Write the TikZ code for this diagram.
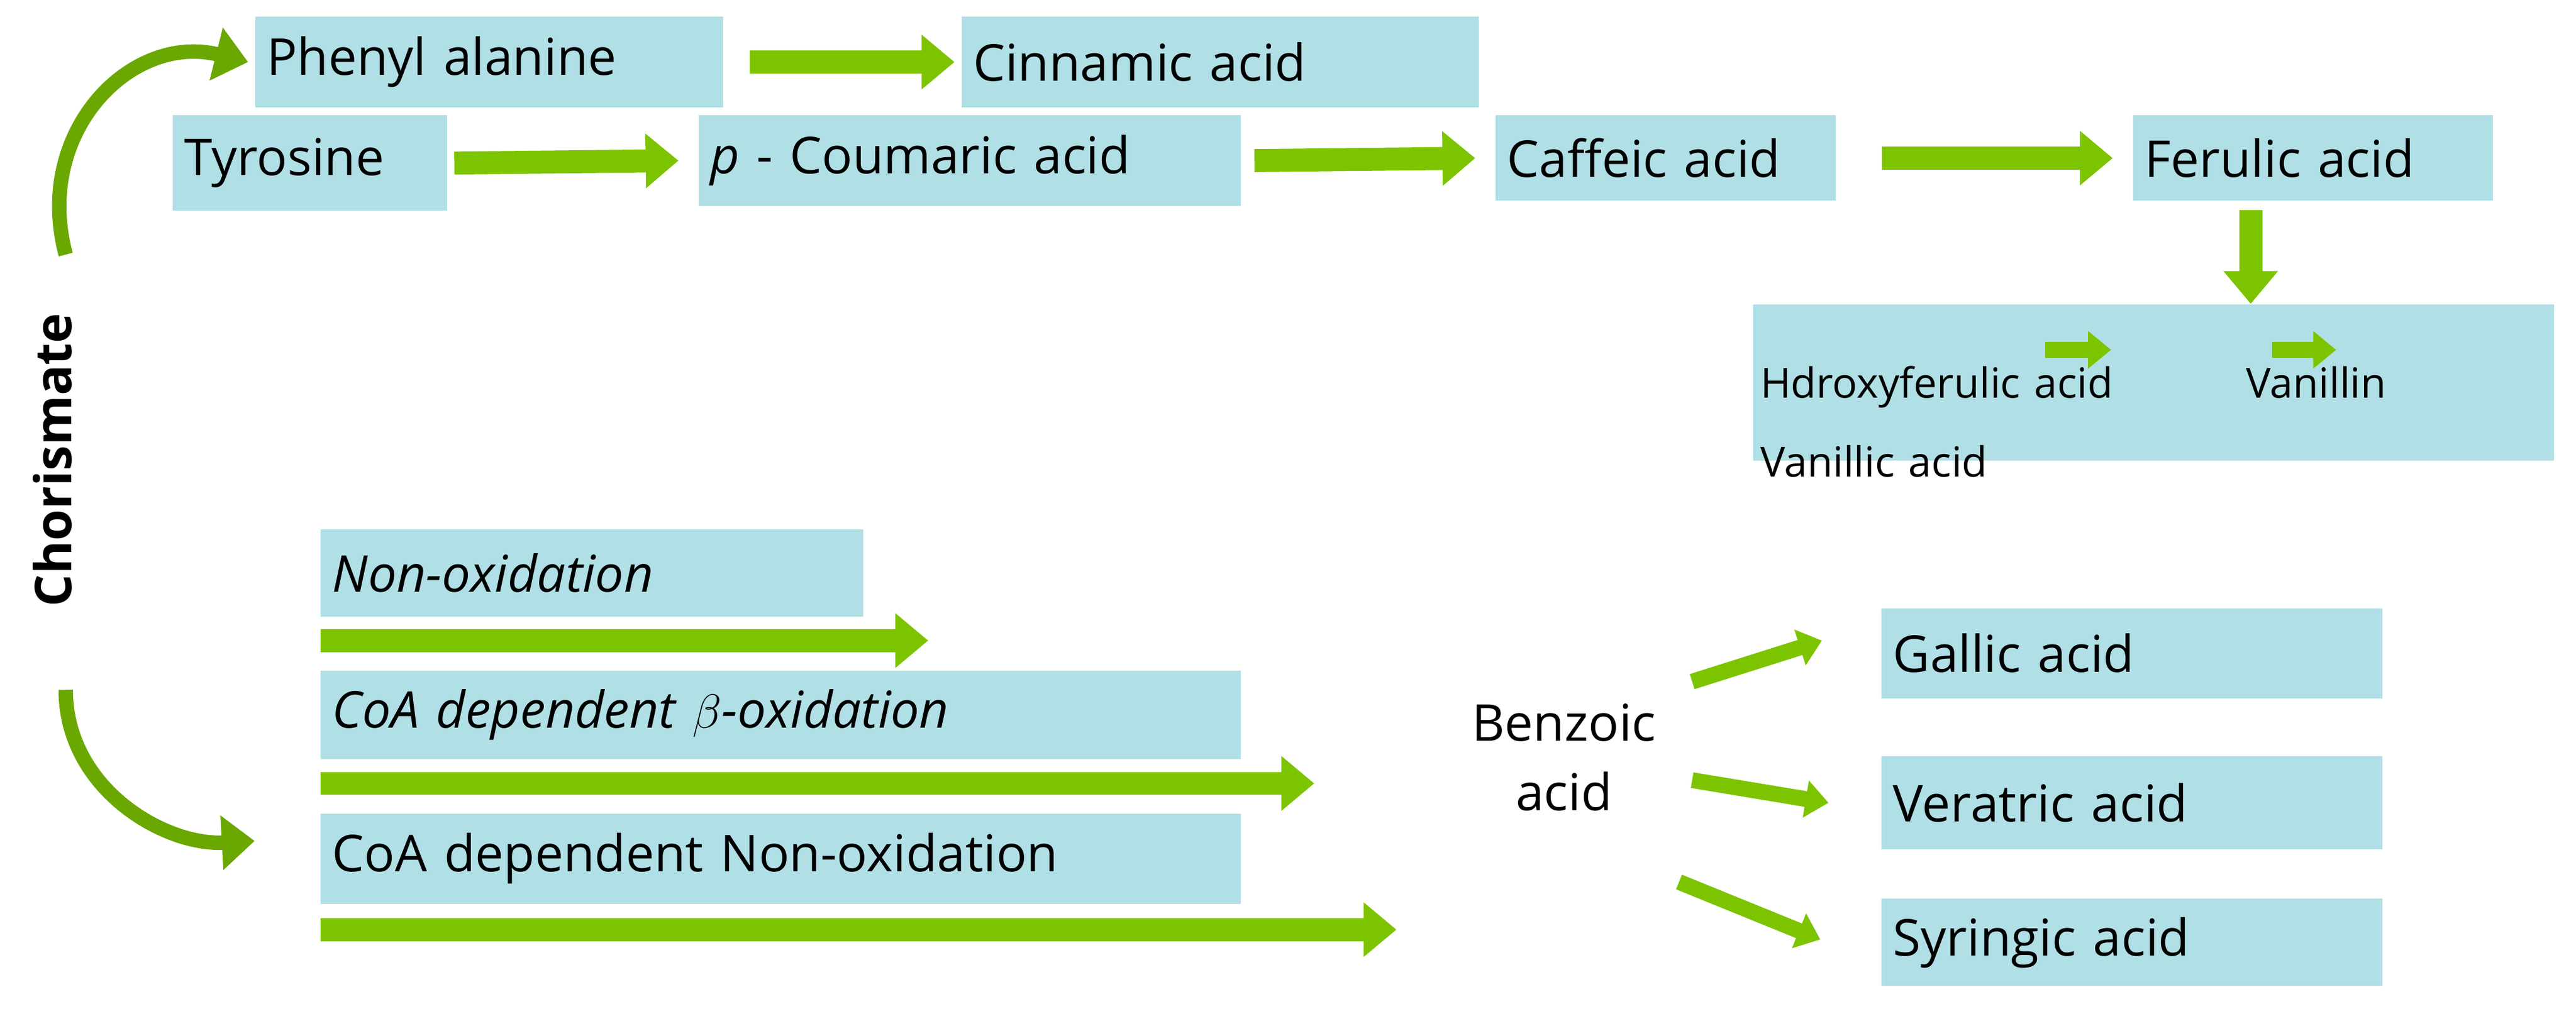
\documentclass[tikz,border=0pt]{standalone}
\usepackage{fontspec}
\setmainfont{Open Sans}
\usetikzlibrary{arrows.meta}
\definecolor{bxc}{HTML}{B0DFE5}
\definecolor{grn}{HTML}{7DC400}
\tikzset{
 box/.style={fill=bxc, inner xsep=5pt, inner ysep=0pt, align=left, anchor=north west, font=\fontsize{22}{26}\selectfont},
 blk/.style={draw=grn, line width=3.5mm, -{Triangle[length=5mm,width=8mm]}},
 sblk/.style={draw=grn, line width=2.4mm, -{Triangle[length=3.5mm,width=5.5mm]}},
 crv/.style={draw=grn!85!black, line width=2.2mm, -{Triangle[length=5mm,width=8mm]}},
}
\newcommand{\bx}[6]{\node[box, minimum height={(#5-#3)*0.25mm}, text width={(#4-#2)*0.25mm-10pt}] (#1) at (#2,#3) {#6};}
\begin{document}
\begin{tikzpicture}[x=0.25mm,y=-0.25mm]
\useasboundingbox (0,0) rectangle (1568,614);
\bx{phe}{155}{10}{440}{65}{Phenyl alanine}
\bx{cin}{585}{10}{900}{65}{Cinnamic acid}
\bx{tyr}{105}{70}{272}{128}{Tyrosine}
\bx{cou}{425}{70}{755}{125}{\textit{p} - Coumaric acid}
\bx{caf}{910}{70}{1117}{122}{Caffeic acid}
\bx{fer}{1298}{70}{1517}{122}{Ferulic acid}
\node[box, minimum height={95*0.25mm}, text width={493*0.25mm-10pt}, inner xsep=3pt, font=\fontsize{18}{34}\selectfont, align=left, text depth=0pt] (van) at (1067,185) {Hdroxyferulic acid\hspace{3.2em}Vanillin\\Vanillic acid};
\draw[blk] ([xshift=4mm]phe.east) -- ([xshift=-1mm]cin.west);
\draw[blk] ([xshift=1mm]tyr.east) -- ([xshift=-3mm]cou.west);
\draw[blk] ([xshift=2mm]cou.east) -- ([xshift=-3mm]caf.west);
\draw[blk] ([xshift=7mm]caf.east) -- ([xshift=-3mm]fer.west);
\draw[blk] (1370,128) -- (van.north -| 1370,0);
\coordinate (h1) at (1245,213); \coordinate (h2) at (1285,213);
\coordinate (v1) at (1383,213); \coordinate (v2) at (1422,213);
\draw[sblk] (h1) -- (h2);
\draw[sblk] (v1) -- (v2);
\node[rotate=90, font=\bfseries\fontsize{22}{26}\selectfont] (cho) at (32,280) {Chorismate};
\draw[crv] (40,155) .. controls (20,80) and (80,20) .. ([xshift=-1mm]phe.west);
\draw[crv] (40,420) .. controls (40,480) and (100,515) .. (155,512);
\bx{nox}{195}{322}{525}{375}{\textit{Non-oxidation}}
\bx{boxi}{195}{408}{755}{462}{\textit{CoA dependent $\beta$-oxidation}}
\bx{cnox}{195}{495}{755}{550}{CoA dependent Non-oxidation}
\draw[blk] (195,390) -- (565,390);
\draw[blk] (195,477) -- (800,477);
\draw[blk] (195,566) -- (850,566);
\node[font=\fontsize{22}{30}\selectfont, align=center] (ben) at (952,461) {Benzoic\\acid};
\bx{gal}{1145}{370}{1450}{425}{Gallic acid}
\bx{ver}{1145}{460}{1450}{517}{Veratric acid}
\bx{syr}{1145}{547}{1450}{600}{Syringic acid}
\draw[sblk] (1030,415) -- ([xshift=-9mm]gal.north west |- 0,390);
\draw[sblk] (1030,475) -- ([xshift=-8mm]ver.west);
\draw[sblk] (1022,537) -- (1108,572);
\end{tikzpicture}
\end{document}
